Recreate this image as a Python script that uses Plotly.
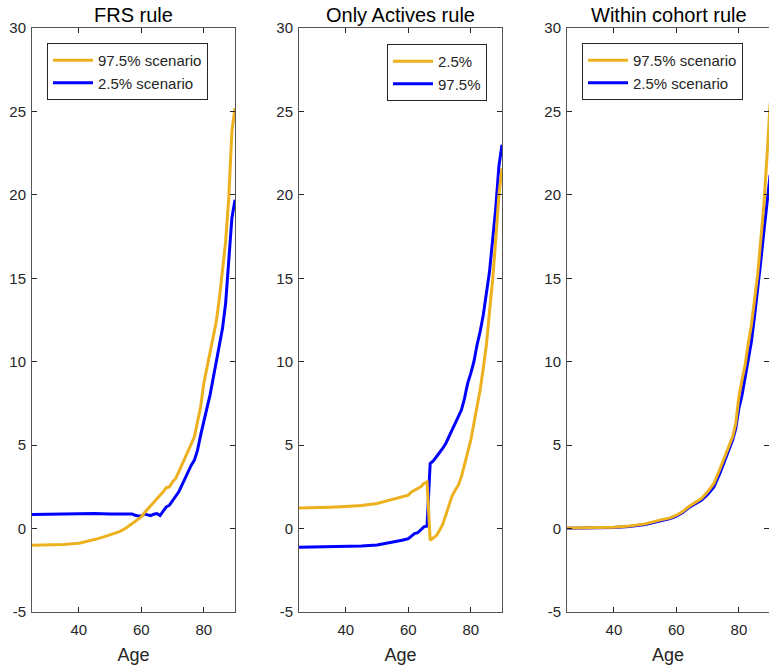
import plotly.graph_objects as go

# ---------------- data ----------------
titles = ["FRS rule", "Only Actives rule", "Within cohort rule"]

# Panel 1: FRS rule
frs_hi_age = [25, 30, 35, 40, 43, 45, 48, 50, 53, 55, 57, 59, 60, 61, 62, 63, 64, 65, 66, 67, 68, 69,
              70, 71, 72, 73, 74, 75, 76, 77, 78, 79, 80, 81, 82, 83, 84, 85, 86, 87, 88, 89, 90]
frs_hi = [-1.0, -0.99, -0.96, -0.88, -0.76, -0.66, -0.5, -0.38, -0.18, 0.02, 0.3, 0.55, 0.7, 0.95,
          1.15, 1.38, 1.6, 1.8, 2.0, 2.2, 2.45, 2.5, 2.8, 3.0, 3.4, 3.8, 4.2, 4.6, 5.0, 5.5, 6.4,
          7.3, 8.7, 9.6, 10.5, 11.6, 12.4, 13.8, 15.5, 17.2, 19.8, 23.8, 25.2]
frs_lo_age = [25, 30, 35, 40, 45, 50, 55, 56, 57, 58, 59, 60, 61, 62, 63, 64, 65, 66, 67, 68, 69,
              70, 71, 72, 73, 74, 75, 76, 77, 78, 79, 80, 81, 82, 83, 84, 85, 86, 87, 88, 89, 90]
frs_lo = [0.85, 0.87, 0.88, 0.88, 0.9, 0.88, 0.88, 0.92, 0.88, 0.8, 0.75, 0.75, 0.88, 0.82, 0.78,
          0.86, 0.9, 0.78, 1.05, 1.3, 1.4, 1.65, 1.9, 2.2, 2.6, 3.0, 3.45, 3.8, 4.1, 4.7, 5.6,
          6.5, 7.2, 8.0, 8.9, 10.0, 11.0, 12.0, 13.5, 16.2, 18.6, 19.7]

# Panel 2: Only Actives rule
oa_age = [25, 30, 35, 40, 45, 50, 55, 58, 60, 61, 62, 63, 64, 65, 66, 67, 68, 69, 70, 71, 72,
          73, 74, 75, 76, 77, 78, 79, 80, 81, 82, 83, 84, 85, 86, 87, 88, 89, 90]
oa_p025 = [1.24, 1.25, 1.28, 1.32, 1.38, 1.5, 1.75, 1.9, 2.0, 2.2, 2.3, 2.35, 2.5, 2.7, 2.8,
           -0.7, -0.55, -0.42, -0.1, 0.25, 0.8, 1.4, 1.95, 2.3, 2.6, 3.1, 3.8, 4.5, 5.3, 6.3,
           7.3, 8.3, 9.6, 11.0, 13.0, 14.9, 17.3, 20.0, 21.6]
oa_p975 = [-1.12, -1.11, -1.1, -1.08, -1.05, -0.98, -0.82, -0.7, -0.6, -0.45, -0.3, -0.25, -0.05,
           0.1, 0.15, 3.9, 4.05, 4.3, 4.5, 4.8, 5.1, 5.5, 6.0, 6.4, 6.8, 7.1, 7.8, 8.7, 9.3,
           10.0, 11.0, 11.8, 12.8, 14.0, 15.4, 17.3, 19.2, 21.7, 23.0]

# Panel 3: Within cohort rule
wc_age = [25, 30, 35, 40, 45, 50, 55, 58, 60, 62, 64, 66, 68, 70, 72, 74, 76, 77, 78, 79,
          80, 81, 82, 83, 84, 85, 86, 87, 88, 89, 90]
wc_hi = [0.04, 0.05, 0.06, 0.08, 0.15, 0.28, 0.52, 0.64, 0.8, 1.02, 1.32, 1.58, 1.8, 2.2, 2.7,
         3.6, 4.5, 4.95, 5.5, 6.3, 7.9, 8.9, 9.8, 11.1, 12.2, 13.7, 15.2, 17.3, 19.4, 22.3, 25.5]
wc_lo = [0.02, 0.03, 0.04, 0.06, 0.12, 0.24, 0.47, 0.6, 0.75, 0.97, 1.26, 1.5, 1.7, 2.05, 2.5,
         3.35, 4.3, 4.75, 5.3, 6.0, 7.2, 8.0, 9.0, 10.0, 11.2, 12.7, 14.2, 16.0, 17.8, 19.5, 21.2]

x_tickvals = [40, 60, 80]
y_tickvals = [-5, 0, 5, 10, 15, 20, 25, 30]
y_ticktext = ["-5", "0", "5", "10", "15", "20", "25", "30"]

# ---------------- styling ----------------
ORANGE = "#EDB120"
BLUE = "#0000FF"
FONT = "Liberation Sans, Arial, Helvetica, sans-serif"
TXT = "#262626"
AXC = "#555555"

W, H = 769, 670
ML, MR, MT, MB = 32, 0, 28, 58
PW = W - ML - MR
PH = H - MT - MB


def px2paper(px):
    return (px - ML) / PW


domains = [[px2paper(32), px2paper(235)],
           [px2paper(299), px2paper(502)],
           [px2paper(567), 1.0]]
xranges = [[25, 90], [25, 90], [25, 25 + (769 - 567) / 3.125]]

panels = [
    dict(hi_x=frs_hi_age, hi_y=frs_hi, hi_name="97.5% scenario",
         lo_x=frs_lo_age, lo_y=frs_lo, lo_name="2.5% scenario"),
    dict(hi_x=oa_age, hi_y=oa_p025, hi_name="2.5%",
         lo_x=oa_age, lo_y=oa_p975, lo_name="97.5%"),
    dict(hi_x=wc_age, hi_y=wc_hi, hi_name="97.5% scenario",
         lo_x=wc_age, lo_y=wc_lo, lo_name="2.5% scenario"),
]

fig = go.Figure()
legend_names = ["legend", "legend2", "legend3"]
for i, p in enumerate(panels):
    sfx = "" if i == 0 else str(i + 1)
    fig.add_trace(go.Scatter(x=p["lo_x"], y=p["lo_y"], name=p["lo_name"], mode="lines",
                             line=dict(color=BLUE, width=3), legend=legend_names[i],
                             legendrank=2, xaxis="x" + sfx, yaxis="y" + sfx))
    fig.add_trace(go.Scatter(x=p["hi_x"], y=p["hi_y"], name=p["hi_name"], mode="lines",
                             line=dict(color=ORANGE, width=3), legend=legend_names[i],
                             legendrank=1, xaxis="x" + sfx, yaxis="y" + sfx))

layout = dict(
    width=W, height=H,
    margin=dict(l=ML, r=MR, t=MT, b=MB, autoexpand=False),
    paper_bgcolor="white", plot_bgcolor="white",
    font=dict(family=FONT, size=15, color=TXT),
    showlegend=True,
)

for i in range(3):
    sfx = "" if i == 0 else str(i + 1)
    layout["xaxis" + sfx] = dict(
        domain=domains[i], range=xranges[i], anchor="y" + sfx, automargin=False,
        tickmode="array", tickvals=x_tickvals,
        ticks="inside", ticklen=5, tickcolor=TXT, tickwidth=1,
        showline=True, linecolor=AXC, linewidth=1, mirror="ticks",
        showgrid=False, zeroline=False, ticklabelstandoff=4,
        tickfont=dict(size=15, color=TXT, family=FONT),
        title=dict(text="Age", font=dict(size=18, color=TXT, family=FONT), standoff=11),
    )
    layout["yaxis" + sfx] = dict(
        domain=[0, 1], range=[-5, 30], anchor="x" + sfx, automargin=False,
        tickmode="array", tickvals=y_tickvals, ticktext=y_ticktext,
        ticks="inside", ticklen=5, tickcolor=TXT, tickwidth=1,
        showline=True, linecolor=AXC, linewidth=1, mirror="ticks",
        showgrid=False, zeroline=False, ticklabelstandoff=2,
        tickfont=dict(size=15, color=TXT, family=FONT),
    )

leg_common = dict(bgcolor="white", bordercolor=TXT, borderwidth=1,
                  font=dict(size=15, color=TXT, family=FONT), itemwidth=40,
                  traceorder="normal", yanchor="top", tracegroupgap=0)
layout["legend"] = dict(leg_common, x=px2paper(47), xanchor="left", y=(H - MB - 43) / PH)
layout["legend2"] = dict(leg_common, x=px2paper(487), xanchor="right", y=(H - MB - 44) / PH)
layout["legend3"] = dict(leg_common, x=px2paper(582), xanchor="left", y=(H - MB - 43) / PH)

annotations = []
for i in range(3):
    annotations.append(dict(
        text=titles[i], x=(domains[i][0] + (domains[i][0] + 203 / PW)) / 2,
        xref="paper", y=1, yref="paper", yanchor="bottom", xanchor="center",
        yshift=0, showarrow=False, font=dict(size=20, color="black", family=FONT)))
layout["annotations"] = annotations

fig.update_layout(**layout)
fig.write_html("out.html", config={"displayModeBar": False},
               post_script="document.body.style.margin='0';")
